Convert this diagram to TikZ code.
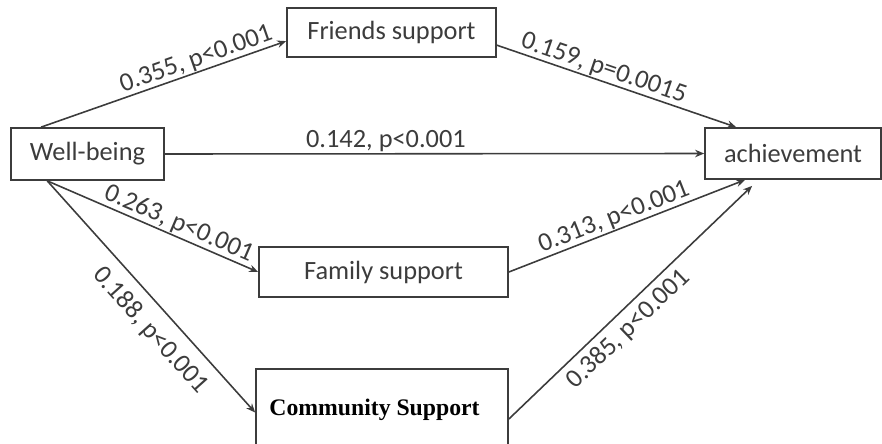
\documentclass[tikz,border=0pt]{standalone}
\usepackage{fontspec}
\setmainfont{Carlito}
\newfontfamily\timesfont{Liberation Serif}
\usepackage{xcolor}
\usetikzlibrary{arrows.meta,positioning,calc}
\definecolor{inkgray}{HTML}{3C3C3C}

\begin{document}
\begin{tikzpicture}[
  x=0.02cm, y=-0.02cm,
  var/.style={draw=inkgray, line width=1pt, text=inkgray, align=center, inner sep=0pt, font=\fontsize{15}{18}\selectfont},
  link/.style={-{Stealth[length=1.8mm, width=1.5mm]}, line width=0.9pt, inkgray},
  coef/.style={sloped, inner sep=0.5pt, text=inkgray, font=\fontsize{15}{18}\selectfont}
]
  \useasboundingbox (0,0) rectangle (882,443);

  % Variables
  \node[var, minimum width=3.06cm, minimum height=1.04cm] (wb) at (87.5,154) {Well-being};
  \node[var, minimum width=4.18cm, minimum height=0.98cm] (fr) at (391.5,32.5) {Friends support};
  \node[var, minimum width=3.52cm, minimum height=1.02cm] (ach) at (793,153.5) {achievement};
  \node[var, minimum width=4.98cm, minimum height=1.0cm] (fam) at (383.5,272) {Family support};
  \node[var, minimum width=5.04cm, minimum height=1.62cm, text=black,
        font=\fontsize{13.5}{16}\timesfont\bfseries] (com) at (382,409.5) {Community Support\hspace*{0.3cm}};

  % Paths from well-being
  \draw[link] ($(wb.north west)!0.2!(wb.north east)$) -- ($(fr.north west)!0.67!(fr.south west)$)
    node[coef, pos=0.65, above] {0.355, p<0.001};
  \draw[link] (wb.east) -- (ach.west)
    node[coef, pos=0.41, above] {0.142, p<0.001};
  \draw[link] ($(wb.south west)!0.24!(wb.south east)$) -- (fam.west)
    node[coef, pos=0.6, above] {0.263, p<0.001};
  \draw[link] ($(wb.south west)!0.24!(wb.south east)$) -- ($(com.west)+(0,3)$)
    node[coef, pos=0.58, below=6pt] {0.188, p<0.001};

  % Paths into achievement
  \draw[link] ($(fr.north east)!0.75!(fr.south east)$) -- ($(ach.north west)!0.18!(ach.north east)$)
    node[coef, pos=0.43, above] {0.159, p=0.0015};
  \draw[link] (fam.east) -- ($(ach.south west)!0.23!(ach.south east)$)
    node[coef, pos=0.465, above] {0.313, p<0.001};
  \draw[link] ($(com.east)+(0,9.5)$) -- ($(ach.south west)!0.27!(ach.south east)+(0,6)$)
    node[coef, pos=0.44, below=3pt] {0.385, p<0.001};
\end{tikzpicture}
\end{document}
